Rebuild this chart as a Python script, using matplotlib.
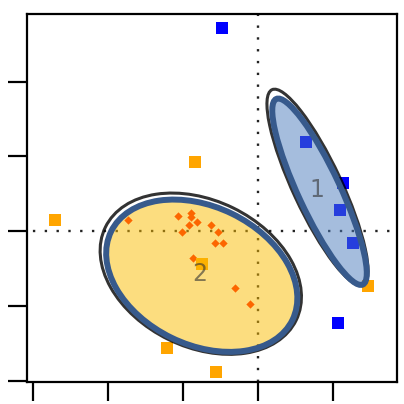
import matplotlib
matplotlib.use("Agg")
import matplotlib.pyplot as plt
from matplotlib.patches import Ellipse

# Group 1 members (blue squares)
blue_x = [-0.48, 0.64, 1.13, 1.09, 1.26, 1.06]
blue_y = [2.71, 1.19, 0.64, 0.29, -0.15, -1.22]

# Group 2 members (orange squares)
orange_x = [-2.71, -0.84, -0.75, -1.21, -0.56, 1.47]
orange_y = [0.15, 0.93, -0.44, -1.55, -1.87, -0.73]

# Small supplementary points
red_x = [-1.07, -0.89, -0.89, -0.92, -0.81, -0.63, -1.01, -0.53, -0.57, -0.47, -0.87, -0.31, -0.11, -1.73]
red_y = [0.20, 0.25, 0.19, 0.09, 0.12, 0.09, -0.01, -0.01, -0.15, -0.15, -0.35, -0.75, -0.97, 0.15]

# Confidence ellipses: centre, width, height, angle
ell_labels = ["1", "2"]
ell_cx = [0.82, -0.75]
ell_cy = [0.53, -0.59]
ell_w = [2.73, 2.69]
ell_h = [0.56, 1.84]
ell_angle = [-65, -26]
ell_fill = ["#4d7dbd", "#fbbd01"]

x_ticks = [-3, -2, -1, 0, 1]
y_ticks = [-2, -1, 0, 1, 2]

fig = plt.figure(figsize=(4.04, 4.04), dpi=100)
ax = fig.add_axes([0.0668, 0.0545, 0.9159, 0.9108])
ax.set_xlim(-3.08, 1.853)
ax.set_ylim(-2.007, 2.9)

# reference lines through the origin
ax.axhline(0, color="#222222", lw=1.7, ls=(2.5, (1, 4.0)), zorder=1)
ax.axvline(0, color="#222222", lw=1.7, ls=(0, (1, 4.0)), zorder=1)

ax.scatter(red_x, red_y, marker="D", s=18, color="#ff1000", linewidths=0, zorder=2)
ax.scatter(blue_x, blue_y, marker="s", s=80, color="#0000ff", linewidths=0, zorder=2)
ax.scatter(orange_x, orange_y, marker="s", s=80, color="#ffa500", linewidths=0, zorder=2)

for lab, cx, cy, w, h, a, fc in zip(ell_labels, ell_cx, ell_cy, ell_w, ell_h, ell_angle, ell_fill):
    # dark outer rim, a little larger and lifted
    if lab == "1":
        ox, oy, dw, dh = -0.027, 0.06, 0.14, 0.09
    else:
        ox, oy, dw, dh = -0.013, 0.027, 0.14, 0.115
    ax.add_patch(Ellipse((cx + ox, cy + oy), w + dw, h + dh, angle=a,
                         fill=False, ec="black", lw=2.2, alpha=0.8, zorder=3))
    ax.add_patch(Ellipse((cx, cy), w, h, angle=a, fc=fc, alpha=0.5,
                         ec="none", zorder=4))
    ax.add_patch(Ellipse((cx, cy), w, h, angle=a, fill=False,
                         ec="#375a8c", lw=4.3, zorder=5))
    ax.text(cx - 0.03, cy + 0.02, lab, fontsize=17, color="#333333", alpha=0.6,
            ha="center", va="center", zorder=6)

ax.set_xticks(x_ticks)
ax.set_yticks(y_ticks)
ax.set_xticklabels([])
ax.set_yticklabels([])
ax.tick_params(axis="both", direction="out", length=14, width=1.6, color="black")
for sp in ax.spines.values():
    sp.set_linewidth(1.6)
    sp.set_color("black")

fig.savefig("out.png", dpi=100)
